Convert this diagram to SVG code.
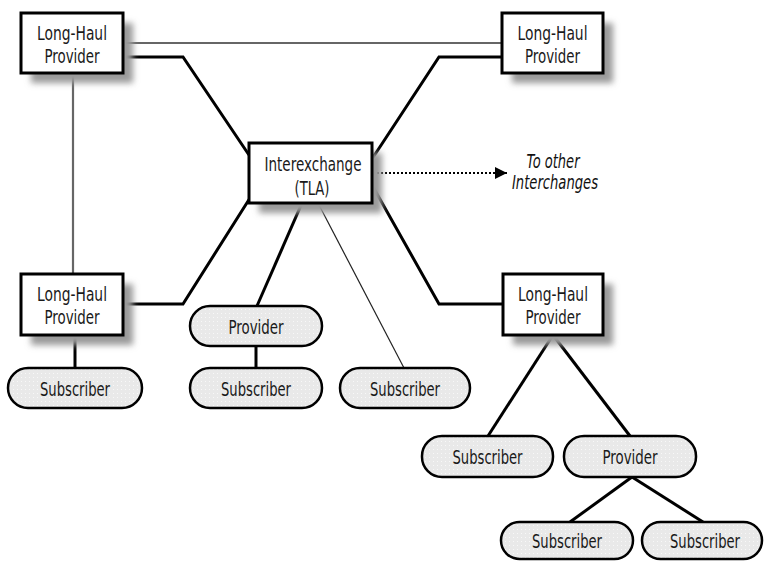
<svg xmlns="http://www.w3.org/2000/svg" width="764" height="561" viewBox="0 0 764 561">
<defs>
<filter id="sh" x="-20%" y="-20%" width="150%" height="160%"><feGaussianBlur stdDeviation="3"/></filter>
<pattern id="dots" width="4" height="4" patternUnits="userSpaceOnUse"><rect width="4" height="4" fill="#e9e9e9"/><rect x="1" y="1" width="1" height="1" fill="#f8f8f8"/></pattern>
<marker id="arr" viewBox="0 0 10 10" refX="10" refY="5" markerWidth="17" markerHeight="12" markerUnits="userSpaceOnUse" orient="auto"><path d="M0,0 L10,5 L0,10 Z" fill="#000"/></marker>
</defs>
<style>
.box{fill:#fff;stroke:#000;stroke-width:3}
.shadow{fill:#9a9a9a;filter:url(#sh)}
.pill{fill:url(#dots);stroke:#000;stroke-width:2.5}
.t{font-family:"DejaVu Sans Condensed","Liberation Sans",sans-serif;font-size:20px;text-anchor:middle;fill:#1a1a1a}
.it{font-family:"DejaVu Sans Condensed","Liberation Sans",sans-serif;font-size:19px;font-style:italic;text-anchor:middle;fill:#111}
.thick{fill:none;stroke:#000;stroke-width:3;stroke-linejoin:miter}
.grey{fill:none;stroke:#666;stroke-width:2.2}
.thin{fill:none;stroke:#222;stroke-width:1.2}
.dot{fill:none;stroke:#000;stroke-width:2;stroke-dasharray:2 2}
</style>
<g id="connectors">
<line class="grey" x1="123" y1="43" x2="502" y2="43"/>
<line class="grey" x1="73" y1="73" x2="73" y2="274"/>
<polyline class="thick" points="123,57 183,57 249,155"/>
<polyline class="thick" points="502,57 439,57 372,159"/>
<polyline class="thick" points="123,304 183,304 250,198"/>
<polyline class="thick" points="372,185 439,304 503,304"/>
<line class="thick" x1="302" y1="203" x2="257" y2="306"/>
<line class="thin" x1="318" y1="203" x2="404" y2="368"/>
<line class="thick" x1="75" y1="335" x2="75" y2="368"/>
<line class="thick" x1="256" y1="346" x2="256" y2="368"/>
<line class="thick" x1="553" y1="335" x2="488" y2="436"/>
<line class="thick" x1="553" y1="335" x2="630" y2="436"/>
<line class="thick" x1="632" y1="477" x2="570" y2="522"/>
<line class="thick" x1="632" y1="477" x2="703" y2="522"/>
<line class="dot" x1="373" y1="173" x2="507" y2="173" marker-end="url(#arr)"/>
</g>
<g id="lhp-top-left">
<rect class="shadow" x="31" y="23" width="102" height="60"/>
<rect class="box" x="21" y="13" width="102" height="60"/>
<text class="t" x="72" y="40" textLength="70" lengthAdjust="spacingAndGlyphs">Long-Haul</text>
<text class="t" x="72" y="63" textLength="55" lengthAdjust="spacingAndGlyphs">Provider</text>
</g>
<g id="lhp-top-right">
<rect class="shadow" x="512" y="23" width="101" height="60"/>
<rect class="box" x="502" y="13" width="101" height="60"/>
<text class="t" x="552.5" y="40" textLength="70" lengthAdjust="spacingAndGlyphs">Long-Haul</text>
<text class="t" x="552.5" y="63" textLength="55" lengthAdjust="spacingAndGlyphs">Provider</text>
</g>
<g id="interexchange">
<rect class="shadow" x="259" y="153" width="123" height="60"/>
<rect class="box" x="249" y="143" width="123" height="60"/>
<text class="t" x="313" y="171" textLength="97" lengthAdjust="spacingAndGlyphs">Interexchange</text>
<text class="t" x="312" y="195" textLength="35" lengthAdjust="spacingAndGlyphs">(TLA)</text>
</g>
<g id="other-interchanges">
<text class="it" x="553" y="168" textLength="53" lengthAdjust="spacingAndGlyphs">To other</text>
<text class="it" x="555" y="189" textLength="86" lengthAdjust="spacingAndGlyphs">Interchanges</text>
</g>
<g id="lhp-bottom-left">
<rect class="shadow" x="31" y="284" width="102" height="61"/>
<rect class="box" x="21" y="274" width="102" height="61"/>
<text class="t" x="72" y="301" textLength="70" lengthAdjust="spacingAndGlyphs">Long-Haul</text>
<text class="t" x="72" y="324" textLength="55" lengthAdjust="spacingAndGlyphs">Provider</text>
</g>
<g id="lhp-bottom-right">
<rect class="shadow" x="513" y="284" width="100" height="61"/>
<rect class="box" x="503" y="274" width="100" height="61"/>
<text class="t" x="553" y="301" textLength="70" lengthAdjust="spacingAndGlyphs">Long-Haul</text>
<text class="t" x="553" y="324" textLength="55" lengthAdjust="spacingAndGlyphs">Provider</text>
</g>
<g id="sub-left">
<rect class="pill" x="8" y="368" width="134" height="40" rx="20"/>
<text class="t" x="75" y="396" textLength="70" lengthAdjust="spacingAndGlyphs">Subscriber</text>
</g>
<g id="prov-mid">
<rect class="pill" x="190" y="306" width="132" height="40" rx="20"/>
<text class="t" x="256" y="334" textLength="55" lengthAdjust="spacingAndGlyphs">Provider</text>
</g>
<g id="sub-mid">
<rect class="pill" x="190" y="368" width="132" height="40" rx="20"/>
<text class="t" x="256" y="396" textLength="70" lengthAdjust="spacingAndGlyphs">Subscriber</text>
</g>
<g id="sub-center">
<rect class="pill" x="340" y="368" width="130" height="40" rx="20"/>
<text class="t" x="405" y="396" textLength="70" lengthAdjust="spacingAndGlyphs">Subscriber</text>
</g>
<g id="sub-right">
<rect class="pill" x="422" y="436" width="131" height="41" rx="20"/>
<text class="t" x="487.5" y="464" textLength="70" lengthAdjust="spacingAndGlyphs">Subscriber</text>
</g>
<g id="prov-right">
<rect class="pill" x="564" y="436" width="132" height="41" rx="20"/>
<text class="t" x="630" y="464" textLength="55" lengthAdjust="spacingAndGlyphs">Provider</text>
</g>
<g id="sub-bottom-left">
<rect class="pill" x="501" y="522" width="132" height="37" rx="18.5"/>
<text class="t" x="567" y="548" textLength="70" lengthAdjust="spacingAndGlyphs">Subscriber</text>
</g>
<g id="sub-bottom-right">
<rect class="pill" x="642" y="522" width="120" height="37" rx="18.5"/>
<text class="t" x="705" y="548" textLength="70" lengthAdjust="spacingAndGlyphs">Subscriber</text>
</g>
</svg>
